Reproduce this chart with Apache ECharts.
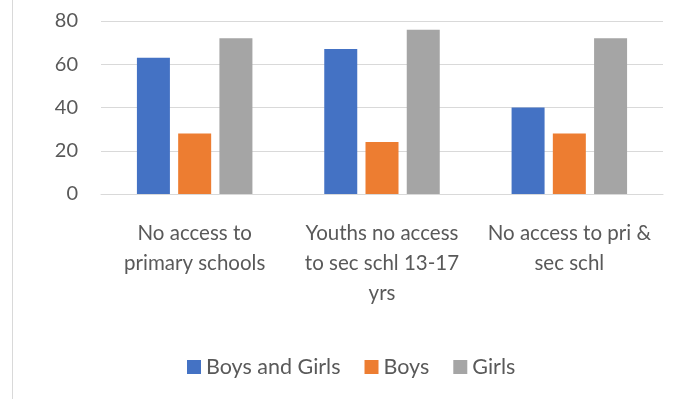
<!DOCTYPE html>
<html><head><meta charset="utf-8">
<script src="https://cdn.jsdelivr.net/npm/echarts@6/dist/echarts.min.js"></script>
<style>html,body{margin:0;padding:0;background:#fff}#c{width:681px;height:399px}</style>
</head><body><div id="c"></div>
<script>
const categories = ["No access to\nprimary schools", "Youths no access\nto sec schl 13-17\nyrs", "No access to pri &\nsec schl"];
const seriesNames = ["Boys and Girls", "Boys", "Girls"];
const boysAndGirls = [63, 67, 40];
const boys = [28, 24, 28];
const girls = [72, 76, 72];
const colors = ["#4472C4", "#ED7D31", "#A5A5A5"];
const FONT = "Lato";
const chart = echarts.init(document.getElementById('c'));
chart.setOption({
  animation: false,
  color: colors,
  graphic: [{type:'line', shape:{x1:12.5,y1:0,x2:12.5,y2:399}, style:{stroke:'#D9D9D9', lineWidth:1}}],
  grid: {left: 101, right: 18, top: 21, bottom: 205},
  legend: {
    top: 351, left: 182, itemWidth: 14, itemHeight: 14, itemGap: 24, itemTextGap: 6,
    icon: 'rect',
    textStyle: {color: '#595959', fontSize: 21.5, fontFamily: FONT},
    data: seriesNames
  },
  xAxis: {
    type: 'category', data: categories,
    axisLine: {show: true, lineStyle: {color: '#D9D9D9'}},
    axisTick: {show: false},
    axisLabel: {color: '#595959', fontSize: 20.5, fontFamily: FONT, lineHeight: 30, margin: 24, interval: 0}
  },
  yAxis: {
    type: 'value', min: 0, max: 80, interval: 20,
    axisLine: {show: false}, axisTick: {show: false},
    splitLine: {lineStyle: {color: '#D9D9D9'}},
    axisLabel: {color: '#595959', fontSize: 20, fontFamily: FONT, margin: 23}
  },
  series: [
    {name: seriesNames[0], type: 'bar', data: boysAndGirls, barWidth: 33, barGap: '25%'},
    {name: seriesNames[1], type: 'bar', data: boys, barWidth: 33, barGap: '25%'},
    {name: seriesNames[2], type: 'bar', data: girls, barWidth: 33, barGap: '25%'}
  ]
});
</script></body></html>
